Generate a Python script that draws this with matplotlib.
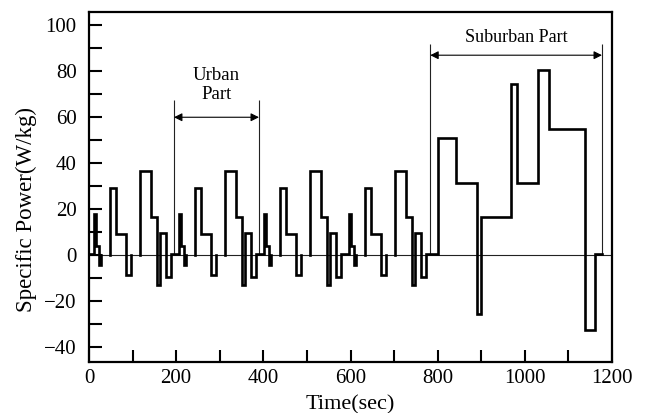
import numpy as np
import matplotlib
matplotlib.use("Agg")
import matplotlib.pyplot as plt
from matplotlib.ticker import MultipleLocator

# Urban (ECE-15) elementary cycle: segment boundaries (s) and specific power (W/kg)
urban_bounds = [0, 11, 15, 23, 28, 49, 61, 85, 96, 117, 143, 155, 163, 176, 188, 195]
urban_power = [0.5, 18, 4, -4.5, 0, 29, 9, -8.5, 0, 36.5, 16.5, -13, 9.5, -9.5, 0.5]
urban_starts = [0, 195, 390, 585]

# Suburban (EUDC) part
suburban_bounds = [780, 800, 841, 891, 899, 968, 981, 1031, 1055, 1138, 1160, 1178]
suburban_power = [0.5, 51, 31.5, -25.5, 16.5, 74.5, 31.5, 80.5, 55, -32.5, 0.5]

# Annotation spans
urban_span = (195, 390)
suburban_span = (783, 1177)

x_ticks = [0, 200, 400, 600, 800, 1000, 1200]
y_ticks = [-40, -20, 0, 20, 40, 60, 80, 100]

# Collect all segments (start, end, power)
segments = []
for t0 in urban_starts:
    for a, b, p in zip(urban_bounds[:-1], urban_bounds[1:], urban_power):
        segments.append((t0 + a, t0 + b, p))
for a, b, p in zip(suburban_bounds[:-1], suburban_bounds[1:], suburban_power):
    segments.append((a, b, p))

# Step path; zero-power stretches leave only the reference line visible
xs, ys = [], []
for a, b, p in segments:
    if p == 0:
        xs += [a, np.nan, b]
        ys += [0, np.nan, 0]
    else:
        xs += [a, b]
        ys += [p, p]

plt.rcParams["font.family"] = ["Liberation Serif", "DejaVu Serif"]

fig = plt.figure(figsize=(6.45, 4.13), dpi=100)
ax = fig.add_axes([89 / 645, 1 - 362 / 413, 523 / 645, 350 / 413])

ax.axhline(0, color="#222222", lw=0.8, zorder=1)
ax.plot(xs, ys, color="black", lw=1.9, solid_joinstyle="miter", zorder=3)

# Urban part marker
ax.vlines(urban_span, 0, 67.5, color="#222222", lw=0.8)
ax.annotate("", xy=(urban_span[0], 60), xytext=(urban_span[1], 60),
            arrowprops=dict(arrowstyle="<|-|>", color="black", lw=0.8,
                            mutation_scale=12, shrinkA=0, shrinkB=0))
ax.text(sum(urban_span) / 2, 74, "Urban\nPart", ha="center", va="center",
        fontsize=13.5, linespacing=1.2)

# Suburban part marker
ax.vlines(suburban_span, 0, 92, color="#222222", lw=0.8)
ax.annotate("", xy=(suburban_span[0], 87), xytext=(suburban_span[1], 87),
            arrowprops=dict(arrowstyle="<|-|>", color="black", lw=0.8,
                            mutation_scale=12, shrinkA=0, shrinkB=0))
ax.text(sum(suburban_span) / 2, 94.5, "Suburban Part", ha="center", va="center",
        fontsize=13)

ax.set_xlim(0, 1200)
ax.set_ylim(-46.5, 105.8)
ax.set_xticks(x_ticks)
ax.set_yticks(y_ticks)
ax.xaxis.set_minor_locator(MultipleLocator(100))
ax.yaxis.set_minor_locator(MultipleLocator(10))
ax.tick_params(which="both", direction="in", length=9, width=1.5,
               top=False, right=False)
ax.tick_params(axis="x", labelsize=15, pad=5)
ax.tick_params(axis="y", labelsize=15, pad=9)
for s in ax.spines.values():
    s.set_linewidth(1.6)

ax.set_xlabel("Time(sec)", fontsize=16, labelpad=5)
ax.set_ylabel("Specific Power(W/kg)", fontsize=16.5)
ax.yaxis.set_label_coords(-0.1, 0.435)

fig.savefig("out.png", dpi=100)
